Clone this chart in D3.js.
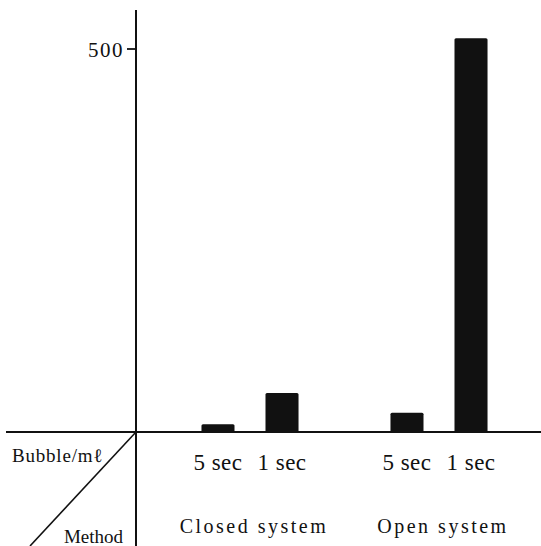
<!DOCTYPE html>
<html>
<head>
<meta charset="utf-8">
<script src="https://cdn.jsdelivr.net/npm/d3@7"></script>
<style>
  body { margin: 0; background: #fff; }
</style>
</head>
<body>
<svg width="541" height="546"></svg>
<script>
// data
const methods = ["Closed system", "Open system"];
const speeds = ["5 sec", "1 sec"];
const closedValues = [10, 51];
const openValues = [25, 514];
const yTicks = [500];

const dataset = [];
methods.forEach((m, i) => {
    const vals = i === 0 ? closedValues : openValues;
    speeds.forEach((s, j) => dataset.push({ method: m, speed: s, value: vals[j] }));
});

const serif = "'Liberation Serif', 'DejaVu Serif', serif";

var svg = d3.select("svg");

// scales
var y = d3.scaleLinear().domain([0, 500]).range([432, 49]);

var x0 = d3.scaleBand().domain(methods).range([155.5, 533.5]).padding(0);
var x1 = d3.scaleBand().domain(speeds).range([0, x0.bandwidth()])
    .paddingInner(0.484).paddingOuter(0.718);

// y axis (only the 500 tick)
var yAxis = svg.append("g")
    .attr("transform", "translate(136,0)")
    .call(d3.axisLeft(y).tickValues(yTicks).tickSize(0).tickSizeOuter(0).tickFormat(d3.format("d")));
yAxis.select(".domain").remove();
yAxis.selectAll(".tick text")
    .attr("x", -12)
    .attr("dy", "0.35em")
    .style("font-family", serif)
    .style("font-size", "21px")
    .style("letter-spacing", "1.5px")
    .style("fill", "#111");

// tick marks drawn by hand so they show clearly
svg.selectAll("line.tick")
    .data(yTicks)
    .enter()
    .append("line")
    .attr("class", "tick")
    .attr("x1", 127).attr("x2", 136)
    .attr("y1", d => y(d)).attr("y2", d => y(d))
    .attr("stroke", "#111").attr("stroke-width", 1.8);

// vertical line through whole picture
svg.append("line")
    .attr("x1", 136).attr("x2", 136)
    .attr("y1", 10).attr("y2", 546)
    .attr("stroke", "#111").attr("stroke-width", 2);

// baseline
svg.append("line")
    .attr("x1", 6).attr("x2", 541)
    .attr("y1", y(0)).attr("y2", y(0))
    .attr("stroke", "#111").attr("stroke-width", 2);

// diagonal in the corner cell
svg.append("line")
    .attr("x1", 136).attr("y1", y(0))
    .attr("x2", 30).attr("y2", 546)
    .attr("stroke", "#111").attr("stroke-width", 1.6);

// bars
svg.selectAll("rect.bar")
    .data(dataset)
    .enter()
    .append("rect")
    .attr("class", "bar")
    .attr("x", d => x0(d.method) + x1(d.speed))
    .attr("y", d => y(d.value))
    .attr("width", x1.bandwidth())
    .attr("height", d => y(0) - y(d.value))
    .attr("rx", 1.5)
    .attr("fill", "#111");

// speed labels
svg.selectAll("text.speed")
    .data(dataset)
    .enter()
    .append("text")
    .attr("class", "speed")
    .attr("x", d => x0(d.method) + x1(d.speed) + x1.bandwidth() / 2)
    .attr("y", 470)
    .attr("text-anchor", "middle")
    .style("font-family", serif)
    .style("font-size", "23px")
    .style("letter-spacing", "0.5px")
    .style("fill", "#111")
    .text(d => d.speed);

// method labels
svg.selectAll("text.method")
    .data(methods)
    .enter()
    .append("text")
    .attr("class", "method")
    .attr("x", d => x0(d) + x0.bandwidth() / 2 + 4)
    .attr("y", 533)
    .attr("text-anchor", "middle")
    .style("font-family", serif)
    .style("font-size", "20px")
    .style("letter-spacing", "2.5px")
    .style("fill", "#111")
    .text(d => d);

// corner labels
svg.append("text")
    .attr("x", 12).attr("y", 462)
    .style("font-family", serif)
    .style("font-size", "19px")
    .style("letter-spacing", "0.8px")
    .style("fill", "#111")
    .text("Bubble/mℓ");

svg.append("text")
    .attr("x", 123).attr("y", 543)
    .attr("text-anchor", "end")
    .style("font-family", serif)
    .style("font-size", "19px")
    .style("fill", "#111")
    .text("Method");
</script>
</body>
</html>
